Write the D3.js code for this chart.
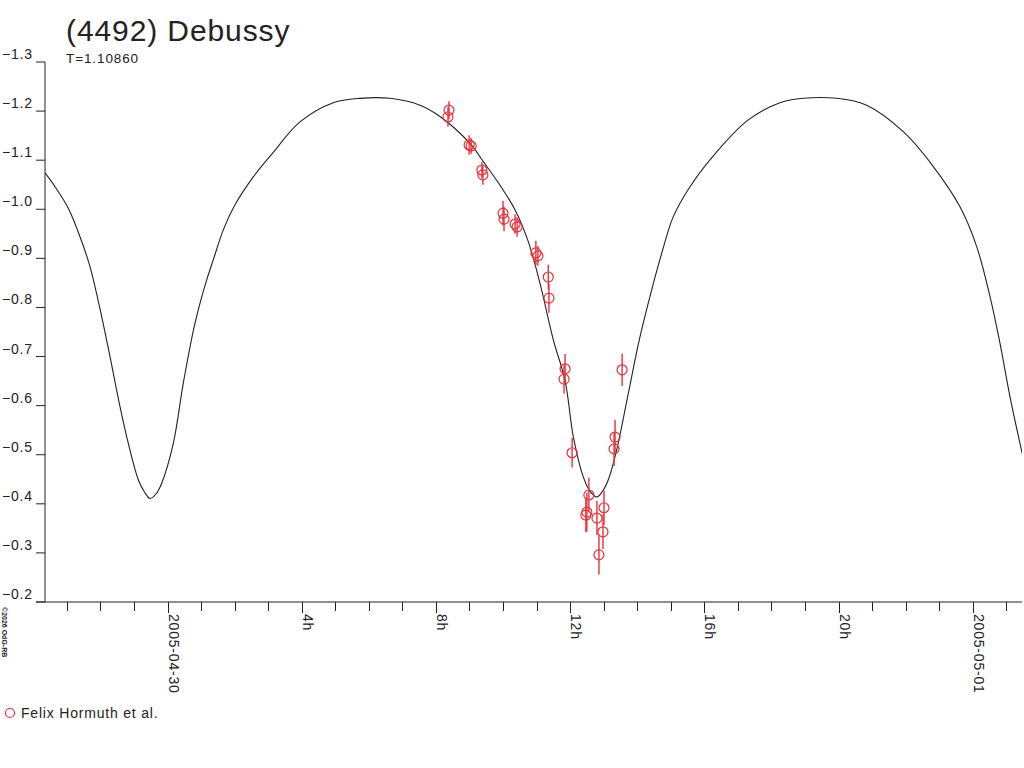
<!DOCTYPE html>
<html>
<head>
<meta charset="utf-8">
<script src="https://cdn.jsdelivr.net/npm/d3@7"></script>
<style>
  body { margin: 0; background: #fff; }
  svg { display: block; }
  text { font-family: "Liberation Sans", Arial, sans-serif; fill: #222; }
</style>
</head>
<body>
<div id="chart"></div>
<script>
// hours since 2005-04-30 00:00 UT, reduced magnitude
const obsHour = [8.39, 8.36, 8.99, 9.05, 9.37, 9.40, 10.00, 10.03, 10.36, 10.42,
                 10.98, 11.04, 11.35, 11.37, 11.85, 11.82, 12.06, 12.56, 12.50, 12.47,
                 12.80, 13.01, 12.98, 12.86, 13.31, 13.34, 13.55];
const obsMag  = [-1.202, -1.188, -1.131, -1.129, -1.080, -1.070, -0.992, -0.980, -0.970, -0.964,
                 -0.911, -0.905, -0.862, -0.819, -0.675, -0.654, -0.504, -0.418, -0.383, -0.377,
                 -0.371, -0.392, -0.343, -0.296, -0.512, -0.536, -0.673];
const obsErr  = [0.018, 0.02, 0.02, 0.016, 0.016, 0.02, 0.025, 0.025, 0.02, 0.02,
                 0.025, 0.02, 0.025, 0.03, 0.03, 0.03, 0.03, 0.035, 0.04, 0.035,
                 0.035, 0.035, 0.035, 0.04, 0.035, 0.035, 0.033];

// fitted lightcurve
const curveHour = [-3.651, -3.353, -2.957, -2.608, -2.310, -1.961, -1.714, -1.416, -1.168, -0.870,
                   -0.686, -0.522, -0.343, -0.173, 0.173, 0.471, 0.820, 1.168, 1.365, 1.663,
                   2.012, 2.557, 3.153, 3.949, 4.942, 5.738, 6.632, 7.526, 8.122, 9.016,
                   9.413, 9.911, 10.358, 10.754, 11.103, 11.499, 11.848, 12.095, 12.393, 12.593,
                   12.794, 12.951, 13.139, 13.389, 13.735, 14.062, 14.432, 14.730, 15.076, 15.574,
                   16.370, 17.311, 18.256, 18.951, 19.946, 20.840, 21.931, 22.826, 23.621, 24.119,
                   24.516, 24.814, 25.112, 25.507];
const curveMag  = [-1.074, -1.046, -1.002, -0.944, -0.883, -0.781, -0.700, -0.598, -0.523, -0.449,
                   -0.424, -0.411, -0.420, -0.442, -0.523, -0.646, -0.768, -0.856, -0.897, -0.958,
                   -1.009, -1.066, -1.116, -1.178, -1.217, -1.226, -1.226, -1.212, -1.189, -1.134,
                   -1.097, -1.049, -0.999, -0.934, -0.849, -0.734, -0.652, -0.537, -0.455, -0.426,
                   -0.414, -0.424, -0.449, -0.510, -0.625, -0.734, -0.836, -0.910, -0.985, -1.046,
                   -1.117, -1.182, -1.217, -1.226, -1.226, -1.212, -1.158, -1.087, -1.005, -0.924,
                   -0.822, -0.727, -0.618, -0.493];

const yTicks = [-1.3, -1.2, -1.1, -1.0, -0.9, -0.8, -0.7, -0.6, -0.5, -0.4, -0.3, -0.2];
const hourTicks = d3.range(-3, 26);
const majorHours = [0, 4, 8, 12, 16, 20, 24];
const majorLabels = ["2005-04-30", "4h", "8h", "12h", "16h", "20h", "2005-05-01"];

const title = "(4492) Debussy";
const subtitle = "T=1.10860";
const observer = "Felix Hormuth et al.";

const red = "#e8303a";
const plot = { left: 45, right: 1022, top: 62, bottom: 602 };

const svg = d3.select("#chart").append("svg")
    .attr("width", 1024)
    .attr("height", 768);

const x = d3.scaleLinear()
    .domain([(plot.left - 167.5) / 33.55, (plot.right - 167.5) / 33.55])
    .range([plot.left, plot.right]);
const y = d3.scaleLinear()
    .domain([-1.3, -0.2])
    .range([plot.top, plot.bottom]);

svg.append("defs").append("clipPath").attr("id", "clip")
  .append("rect")
    .attr("x", plot.left).attr("y", plot.top - 10)
    .attr("width", plot.right - plot.left).attr("height", plot.bottom - plot.top + 10);

// title block
svg.append("text")
    .attr("x", 66).attr("y", 41)
    .style("font-size", "30px").style("letter-spacing", "0.9px")
    .text(title);
svg.append("text")
    .attr("x", 66).attr("y", 63)
    .style("font-size", "13.5px").style("letter-spacing", "0.9px")
    .text(subtitle);

// y axis
const yAxis = svg.append("g");
yAxis.append("line")
    .attr("x1", plot.left).attr("x2", plot.left)
    .attr("y1", plot.top).attr("y2", plot.bottom)
    .attr("stroke", "#222");
yAxis.selectAll(".yt").data(yTicks).enter().append("line")
    .attr("x1", 36).attr("x2", plot.left)
    .attr("y1", d => y(d)).attr("y2", d => y(d))
    .attr("stroke", "#222");
yAxis.selectAll(".yl").data(yTicks).enter().append("text")
    .attr("x", 2).attr("y", d => y(d) - 3)
    .style("font-size", "14px").style("letter-spacing", "0.8px")
    .text(d => d3.format(".1f")(d));

// x axis
const xAxis = svg.append("g");
xAxis.append("line")
    .attr("x1", 36).attr("x2", plot.right)
    .attr("y1", plot.bottom).attr("y2", plot.bottom)
    .attr("stroke", "#222");
xAxis.selectAll(".xt").data(hourTicks).enter().append("line")
    .attr("x1", d => Math.round(x(d)) + 0.5).attr("x2", d => Math.round(x(d)) + 0.5)
    .attr("y1", plot.bottom)
    .attr("y2", d => majorHours.includes(d) ? plot.bottom + 11 : plot.bottom + 9)
    .attr("stroke", "#222");
xAxis.selectAll(".xl").data(majorHours).enter().append("text")
    .attr("transform", d => `translate(${Math.round(x(d)) + 1},${plot.bottom + 12}) rotate(90)`)
    .style("font-size", "14px").style("letter-spacing", "0.8px")
    .text((d, i) => majorLabels[i]);

// model curve
const line = d3.line()
    .x(d => x(d[0]))
    .y(d => y(d[1]))
    .curve(d3.curveCatmullRom.alpha(0.5));
svg.append("path")
    .datum(curveHour.map((h, i) => [h, curveMag[i]]))
    .attr("clip-path", "url(#clip)")
    .attr("fill", "none")
    .attr("stroke", "#222")
    .attr("stroke-width", 1.1)
    .attr("d", line);

// observations with error bars
const obs = obsHour.map((h, i) => ({ h: h, m: obsMag[i], e: obsErr[i] }));
svg.selectAll(".err").data(obs).enter().append("line")
    .attr("x1", d => x(d.h)).attr("x2", d => x(d.h))
    .attr("y1", d => y(d.m - d.e)).attr("y2", d => y(d.m + d.e))
    .attr("stroke", red).attr("stroke-width", 1.4);
svg.selectAll(".dot").data(obs).enter().append("circle")
    .attr("cx", d => x(d.h)).attr("cy", d => y(d.m))
    .attr("r", 5)
    .attr("fill", "none")
    .attr("stroke", red).attr("stroke-width", 1.2);

// legend
svg.append("circle")
    .attr("cx", 10).attr("cy", 713).attr("r", 4.5)
    .attr("fill", "none").attr("stroke", red).attr("stroke-width", 1.2);
svg.append("text")
    .attr("x", 21).attr("y", 718)
    .style("font-size", "14px").style("letter-spacing", "0.8px")
    .text(observer);

// copyright
svg.append("text")
    .attr("transform", "translate(2,607) rotate(90)")
    .style("font-size", "7px").style("font-weight", "bold")
    .text("©2026 OdG-RB");
</script>
</body>
</html>
